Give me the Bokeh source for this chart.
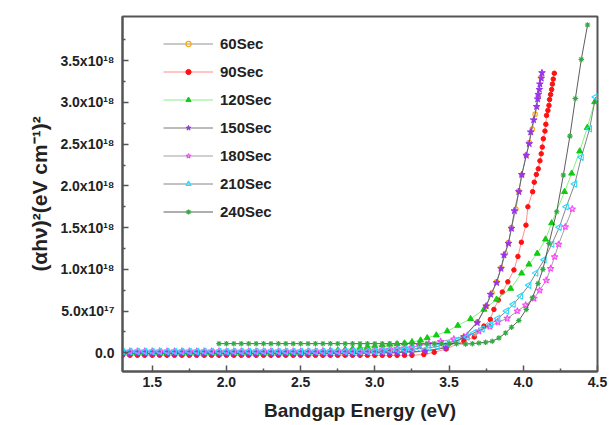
import numpy as np
from bokeh.plotting import figure
from bokeh.models import FixedTicker, Range1d, Legend, LegendItem, NumeralTickFormatter
from bokeh.embed import file_html
from bokeh.resources import INLINE

# ---------------- data (y in units of 1e18 (eV cm^-1)^2) ----------------
GRID = [1.30, 1.35, 1.40, 1.45, 1.50, 1.55, 1.60, 1.65, 1.70, 1.75,
        1.80, 1.85, 1.90, 1.95, 2.00, 2.05, 2.10, 2.15, 2.20, 2.25,
        2.30, 2.35, 2.40, 2.45, 2.50, 2.55, 2.60, 2.65, 2.70, 2.75,
        2.80, 2.85, 2.90, 2.95, 3.00, 3.05, 3.10, 3.15, 3.20, 3.25]

GRID_240 = [1.95, 2.00, 2.05, 2.10, 2.15, 2.20, 2.25, 2.30, 2.35, 2.40,
            2.45, 2.50, 2.55, 2.60, 2.65, 2.70, 2.75, 2.80, 2.85, 2.90,
            2.95, 3.00, 3.05, 3.10, 3.15, 3.20, 3.25]

# 60 Sec
x60 = GRID + [3.34, 3.48, 3.60, 3.69, 3.75, 3.79, 3.82, 3.85, 3.88, 3.90,
              3.92, 3.95, 3.97, 3.99, 4.02, 4.04, 4.06, 4.08, 4.10, 4.12]
y60 = [-0.01, -0.01, -0.01, -0.01, -0.01, -0.01, -0.01, -0.01, -0.01, -0.01,
       -0.01, -0.01, -0.01, -0.01, -0.01, -0.01, -0.01, -0.01, -0.01, -0.01,
       -0.01, -0.01, -0.01, -0.01, -0.01, -0.01, -0.01, -0.01, -0.01, -0.01,
       -0.01, -0.01, -0.01, 0.00, 0.00, 0.00, 0.00, 0.00, 0.01, 0.01] + \
      [0.02, 0.07, 0.19, 0.37, 0.56, 0.72, 0.85, 1.02, 1.19, 1.32,
       1.50, 1.72, 1.94, 2.13, 2.37, 2.52, 2.68, 2.86, 3.07, 3.30]

# 90 Sec
x90 = GRID + [3.33, 3.40, 3.48, 3.60, 3.67, 3.735, 3.778, 3.802, 3.832, 3.859,
              3.896, 3.937, 3.964, 3.987, 4.018, 4.031, 4.063, 4.074, 4.088, 4.101,
              4.112, 4.121, 4.128, 4.135, 4.146, 4.152, 4.157, 4.166, 4.173, 4.177,
              4.184, 4.191, 4.196, 4.202, 4.209]
y90 = [-0.03, -0.03, -0.03, -0.03, -0.03, -0.03, -0.03, -0.03, -0.03, -0.03,
       -0.03, -0.03, -0.03, -0.03, -0.03, -0.03, -0.03, -0.03, -0.03, -0.03,
       -0.03, -0.03, -0.03, -0.03, -0.03, -0.03, -0.03, -0.03, -0.03, -0.03,
       -0.03, -0.03, -0.03, -0.03, -0.03, -0.03, -0.03, -0.03, -0.03, -0.03] + \
      [-0.02, 0.006, 0.046, 0.14, 0.19, 0.32, 0.40, 0.52, 0.632, 0.728,
       0.85, 0.993, 1.155, 1.325, 1.53, 1.75, 1.93, 2.045, 2.137, 2.205,
       2.30, 2.385, 2.465, 2.565, 2.657, 2.738, 2.845, 2.905, 2.965, 3.035,
       3.095, 3.155, 3.22, 3.28, 3.35]

# 120 Sec
x120 = GRID + [3.308, 3.353, 3.414, 3.488, 3.559, 3.645, 3.735, 3.820, 3.915, 3.989,
               4.038, 4.094, 4.150, 4.191, 4.278, 4.326, 4.380, 4.431, 4.481]
y120 = [0.00, 0.00, 0.00, 0.00, 0.00, 0.00, 0.00, 0.00, 0.00, 0.00,
        0.00, 0.00, 0.00, 0.00, 0.00, 0.00, 0.00, 0.00, 0.00, 0.00,
        0.00, 0.00, 0.00, 0.00, 0.00, 0.00, 0.01, 0.02, 0.025, 0.03,
        0.04, 0.05, 0.06, 0.07, 0.08, 0.09, 0.10, 0.105, 0.115, 0.13] + \
       [0.15, 0.178, 0.211, 0.259, 0.327, 0.407, 0.52, 0.64, 0.77, 0.953,
        1.06, 1.19, 1.36, 1.555, 1.93, 2.15, 2.416, 2.698, 3.006]

# 150 Sec
x150 = GRID + [3.34, 3.48, 3.60, 3.69, 3.75, 3.78, 3.82, 3.85, 3.87, 3.90,
               3.92, 3.94, 3.97, 3.99, 4.02, 4.04, 4.05, 4.07, 4.09, 4.097,
               4.101, 4.108, 4.112, 4.121, 4.126]
y150 = [-0.01, -0.01, -0.01, -0.01, -0.01, -0.01, -0.01, -0.01, -0.01, -0.01,
        -0.01, -0.01, -0.01, -0.01, -0.01, -0.01, -0.01, -0.01, -0.01, -0.01,
        -0.01, -0.01, -0.01, -0.01, -0.01, -0.01, -0.01, -0.01, -0.01, -0.01,
        -0.01, -0.01, -0.01, 0.00, 0.00, 0.00, 0.00, 0.00, 0.01, 0.01] + \
       [0.02, 0.06, 0.19, 0.36, 0.56, 0.70, 0.84, 1.01, 1.17, 1.31,
        1.49, 1.70, 1.93, 2.135, 2.365, 2.505, 2.645, 2.79, 2.95, 3.04,
        3.095, 3.155, 3.22, 3.29, 3.355]

# 180 Sec
x180 = GRID + [3.30, 3.364, 3.443, 3.532, 3.623, 3.701, 3.775, 3.829, 3.892, 3.960,
               4.016, 4.072, 4.110, 4.155, 4.184, 4.211, 4.238, 4.283, 4.330]
y180 = [0.02, 0.02, 0.02, 0.02, 0.02, 0.02, 0.02, 0.02, 0.02, 0.02,
        0.02, 0.02, 0.02, 0.02, 0.02, 0.02, 0.02, 0.02, 0.02, 0.02,
        0.02, 0.02, 0.02, 0.02, 0.02, 0.02, 0.02, 0.02, 0.02, 0.02,
        0.02, 0.02, 0.025, 0.025, 0.03, 0.035, 0.04, 0.05, 0.055, 0.065] + \
       [0.085, 0.11, 0.135, 0.165, 0.207, 0.259, 0.315, 0.367, 0.412, 0.50,
        0.572, 0.652, 0.749, 0.869, 1.01, 1.15, 1.30, 1.51, 1.723]

# 210 Sec
x210 = GRID + [3.30, 3.36, 3.42, 3.49, 3.555, 3.623, 3.667, 3.724, 3.780, 3.829,
               3.888, 3.933, 3.982, 4.038, 4.085, 4.141, 4.193, 4.243, 4.290, 4.347,
               4.391, 4.447, 4.487]
y210 = [0.015, 0.015, 0.015, 0.015, 0.015, 0.015, 0.015, 0.015, 0.015, 0.015,
        0.015, 0.015, 0.015, 0.015, 0.015, 0.015, 0.015, 0.015, 0.015, 0.015,
        0.015, 0.015, 0.015, 0.015, 0.015, 0.015, 0.015, 0.015, 0.015, 0.015,
        0.015, 0.015, 0.015, 0.015, 0.015, 0.02, 0.03, 0.035, 0.04, 0.045] + \
       [0.05, 0.06, 0.075, 0.11, 0.15, 0.19, 0.238, 0.286, 0.34, 0.412,
        0.50, 0.581, 0.681, 0.809, 0.955, 1.115, 1.305, 1.505, 1.751, 2.024,
        2.344, 2.686, 3.066]

# 240 Sec
x240 = GRID_240 + [3.30, 3.35, 3.40, 3.45, 3.50, 3.55, 3.611, 3.657, 3.701, 3.746,
                   3.791, 3.836, 3.881, 3.921, 3.970, 4.020, 4.061, 4.099, 4.132, 4.173,
                   4.225, 4.270, 4.314, 4.351, 4.391, 4.433]
y240 = [0.11, 0.11, 0.11, 0.11, 0.11, 0.11, 0.11, 0.11, 0.11, 0.11,
        0.11, 0.11, 0.11, 0.11, 0.11, 0.11, 0.11, 0.11, 0.11, 0.11,
        0.11, 0.11, 0.11, 0.11, 0.11, 0.11, 0.11] + \
       [0.11, 0.11, 0.11, 0.11, 0.11, 0.11, 0.105, 0.11, 0.118, 0.126,
        0.138, 0.178, 0.238, 0.307, 0.387, 0.52, 0.66, 0.83, 1.00, 1.31,
        1.69, 2.13, 2.597, 3.047, 3.516, 3.929]

labels = ["60Sec", "90Sec", "120Sec", "150Sec", "180Sec", "210Sec", "240Sec"]

X_TICKS = [1.5, 2.0, 2.5, 3.0, 3.5, 4.0, 4.5]
X_MINOR = [1.75, 2.25, 2.75, 3.25, 3.75, 4.25]
Y_TICKS = [0, 0.5, 1, 1.5, 2, 2.5, 3, 3.5]
Y_MINOR = [-0.25, 0.25, 0.75, 1.25, 1.75, 2.25, 2.75, 3.25, 3.75]
Y_LABELS = ["0.0", "5.0x10\u00b9\u2077", "1.0x10\u00b9\u2078", "1.5x10\u00b9\u2078",
            "2.0x10\u00b9\u2078", "2.5x10\u00b9\u2078", "3.0x10\u00b9\u2078", "3.5x10\u00b9\u2078"]

FONT = "Liberation Sans"
AX = "#555555"

p = figure(width=609, height=425, x_range=Range1d(1.3, 4.5), y_range=Range1d(-0.224, 4.03),
           output_backend="svg", toolbar_location=None,
           min_border_left=122, min_border_right=12, min_border_top=16, min_border_bottom=54)
p.background_fill_color = "white"
p.border_fill_color = "white"
p.outline_line_color = AX
p.outline_line_width = 2
p.xgrid.visible = False
p.ygrid.visible = False

p.xaxis.ticker = FixedTicker(ticks=X_TICKS, minor_ticks=X_MINOR)
p.xaxis.formatter = NumeralTickFormatter(format="0.0")
p.yaxis.ticker = FixedTicker(ticks=Y_TICKS, minor_ticks=Y_MINOR)
p.yaxis.major_label_overrides = {k: v for k, v in zip(Y_TICKS, Y_LABELS)}

for ax in (p.xaxis[0], p.yaxis[0]):
    ax.axis_line_color = AX
    ax.axis_line_width = 2
    ax.major_tick_line_color = AX
    ax.minor_tick_line_color = AX
    ax.major_tick_line_width = 1.5
    ax.minor_tick_line_width = 1.5
    ax.major_tick_in = 6
    ax.major_tick_out = 0
    ax.minor_tick_in = 3
    ax.minor_tick_out = 0
    ax.major_label_text_font = FONT
    ax.major_label_text_font_style = "bold"
    ax.major_label_text_font_size = "14px"
    ax.major_label_text_color = "#222222"
    ax.axis_label_text_font = FONT
    ax.axis_label_text_font_style = "bold"
    ax.axis_label_text_color = "#222222"

p.xaxis.major_label_standoff = 5
p.yaxis.major_label_standoff = 8
p.xaxis.axis_label = "Bandgap Energy (eV)"
p.xaxis.axis_label_text_font_size = "19px"
p.xaxis.axis_label_standoff = 10
p.yaxis.axis_label = "(\u03b1h\u03bd)\u00b2(eV cm\u207b\u00b9)\u00b2"
p.yaxis.axis_label_text_font_size = "21px"
p.yaxis.axis_label_standoff = 6

series = [
    dict(x=x60, y=y60, lc="#777777", marker="circle", size=4.5, mfc=None, mlc="#FFA500", angle=0),
    dict(x=x90, y=y90, lc="#FF7070", marker="circle", size=4.5, mfc="#FF1111", mlc="#FF1111", angle=0),
    dict(x=x120, y=y120, lc="#66EE66", marker="triangle", size=6, mfc="#11CC11", mlc="#11CC11", angle=0),
    dict(x=x150, y=y150, lc="#555555", marker="star", size=7, mfc="#9933EE", mlc="#9933EE", angle=0),
    dict(x=x180, y=y180, lc="#888888", marker="star", size=7, mfc=None, mlc="#FF44FF", angle=0),
    dict(x=x210, y=y210, lc="#666666", marker="triangle", size=6.5, mfc=None, mlc="#22DDFF", angle=np.pi / 2),
    dict(x=x240, y=y240, lc="#333333", marker="asterisk", size=5.5, mfc=None, mlc="#33AA44", angle=0),
]

items = []
for s, lab in zip(series, labels):
    lr = p.line(s["x"], s["y"], line_color=s["lc"], line_width=0.8)
    if s["mfc"] is None:
        sr = p.scatter(s["x"], s["y"], marker=s["marker"], size=s["size"], fill_alpha=0,
                       line_color=s["mlc"], line_width=1.1, angle=s["angle"])
    else:
        sr = p.scatter(s["x"], s["y"], marker=s["marker"], size=s["size"], fill_color=s["mfc"],
                       line_color=s["mlc"], line_width=1, angle=s["angle"])
    items.append(LegendItem(label=lab, renderers=[lr, sr]))

legend = Legend(items=items, location=(41, 148))
legend.glyph_width = 50
legend.glyph_height = 13
legend.label_height = 24
legend.spacing = 4
legend.padding = 0
legend.margin = 0
legend.label_standoff = 7
legend.label_text_font = FONT
legend.label_text_font_style = "bold"
legend.label_text_font_size = "15px"
legend.label_text_color = "#222222"
legend.background_fill_alpha = 0
legend.border_line_alpha = 0
p.add_layout(legend)

open("out.html", "w").write(file_html(p, INLINE))
